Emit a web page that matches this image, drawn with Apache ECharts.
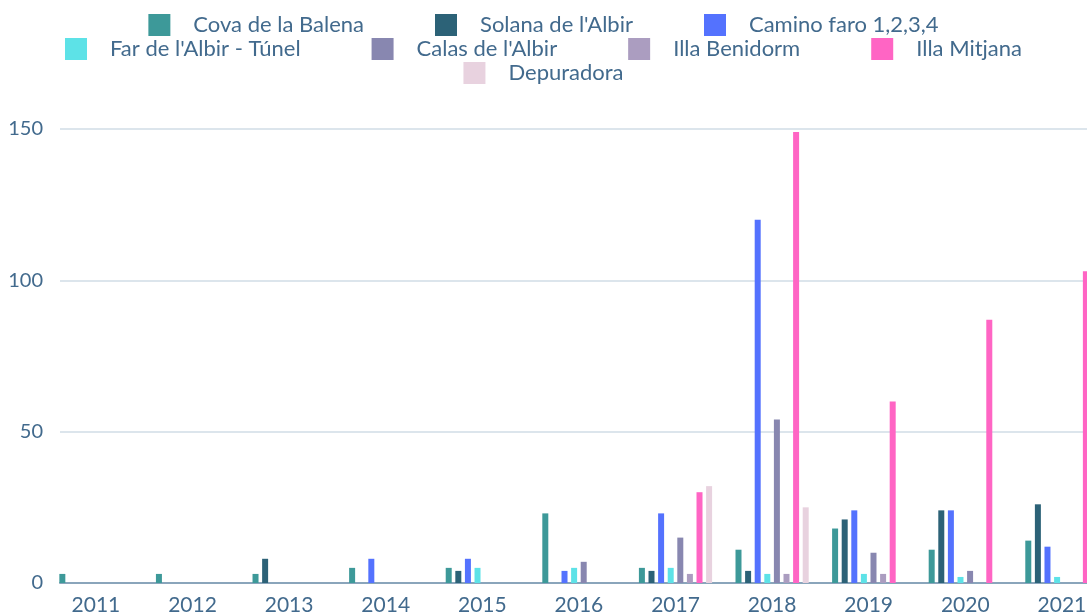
<!DOCTYPE html>
<html>
<head>
<meta charset="utf-8">
<script src="https://cdn.jsdelivr.net/npm/echarts@6/dist/echarts.min.js"></script>
<style>
  html, body { margin: 0; padding: 0; background: #fff; }
  #chart { width: 1087px; height: 613px; }
</style>
</head>
<body>
<div id="chart"></div>
<script>
// años
var years = [2011, 2012, 2013, 2014, 2015, 2016, 2017, 2018, 2019, 2020, 2021];

// valores por zona
var covaBalena    = [3, 3, 3, 5, 5, 23, 5, 11, 18, 11, 14];
var solanaAlbir   = [0, 0, 8, 0, 4, 0, 4, 4, 21, 24, 26];
var caminoFaro    = [0, 0, 0, 8, 8, 4, 23, 120, 24, 24, 12];
var farAlbir      = [0, 0, 0, 0, 5, 5, 5, 3, 3, 2, 2];
var calasAlbir    = [0, 0, 0, 0, 0, 7, 15, 54, 10, 4, 0];
var illaBenidorm  = [0, 0, 0, 0, 0, 0, 3, 3, 3, 0, 0];
var illaMitjana   = [0, 0, 0, 0, 0, 0, 30, 149, 60, 87, 103];
var depuradora    = [0, 0, 0, 0, 0, 0, 32, 25, 0, 0, 0];

var yTicks = [0, 50, 100, 150];

var seriesNames = ['Cova de la Balena', "Solana de l'Albir", 'Camino faro 1,2,3,4',
    "Far de l'Albir - Túnel", "Calas de l'Albir", 'Illa Benidorm', 'Illa Mitjana', 'Depuradora'];
var seriesData = [covaBalena, solanaAlbir, caminoFaro, farAlbir, calasAlbir, illaBenidorm, illaMitjana, depuradora];
var colors = ['#3d9999', '#2c6277', '#5472fe', '#5de2e7', '#8887b0', '#ab9dc0', '#ff65c4', '#e8d2df'];

(function () {
    var myChart = echarts.init(document.getElementById('chart'));

    var textColor = '#426a8d';
    var font = 'Lato';

    function legendRow(names, top) {
        return {
            data: names,
            top: top,
            left: 'center',
            padding: 0,
            itemWidth: 22,
            itemHeight: 22,
            itemGap: 71,
            icon: 'rect',
            textStyle: {
                color: textColor,
                fontFamily: font,
                fontSize: 22,
                padding: [0, 0, 0, 18]
            }
        };
    }

    var series = seriesNames.map(function (name, i) {
        return {
            name: name,
            type: 'bar',
            barWidth: 6,
            barGap: '60%',
            itemStyle: { color: colors[i] },
            data: years.map(function (y, j) { return [y, seriesData[i][j]]; })
        };
    });

    var option = {
        animation: false,
        color: colors,
        legend: [
            legendRow(seriesNames.slice(0, 3), 14),
            legendRow(seriesNames.slice(3, 7), 38),
            legendRow(seriesNames.slice(7), 62)
        ],
        grid: {
            left: 60,
            right: 0,
            top: 129,
            bottom: 30,
            outerBoundsMode: 'none'
        },
        xAxis: {
            type: 'value',
            min: 2010.628,
            max: 2021.26,
            splitLine: { show: false },
            axisTick: { show: false },
            axisLine: { show: true, onZero: false, lineStyle: { color: '#8aa5bb', width: 2 } },
            axisLabel: {
                customValues: years,
                color: textColor,
                fontFamily: font,
                fontSize: 21,
                margin: 12,
                formatter: function (v) { return String(v); }
            }
        },
        yAxis: {
            type: 'value',
            min: yTicks[0],
            max: yTicks[yTicks.length - 1],
            interval: 50,
            axisLine: { show: false },
            axisTick: { show: false },
            splitLine: { lineStyle: { color: '#d0dce6', width: 1.5 } },
            axisLabel: {
                color: textColor,
                fontFamily: font,
                fontSize: 20,
                margin: 17
            }
        },
        series: series
    };

    myChart.setOption(option);
})();
</script>
</body>
</html>
